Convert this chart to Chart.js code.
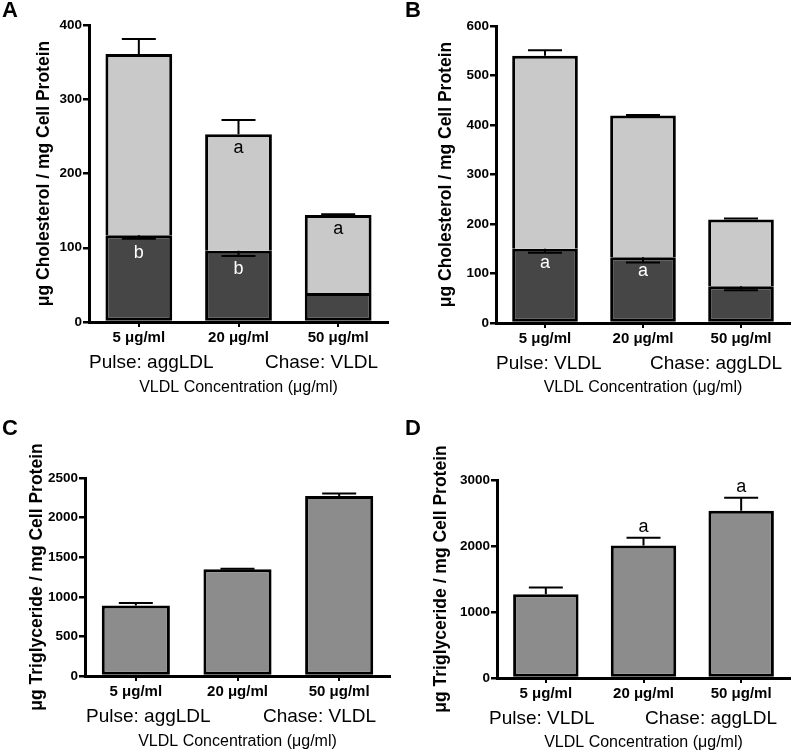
<!DOCTYPE html>
<html>
<head>
<meta charset="utf-8">
<script src="https://cdn.jsdelivr.net/npm/chart.js@4/dist/chart.umd.min.js"></script>
<style>
  body { margin: 0; background: #fff; }
  #wrap { position: relative; width: 797px; height: 756px; }
  canvas { position: absolute; }
</style>
</head>
<body>
<div id="wrap">
  <canvas id="pA" width="400" height="400" style="left:0;top:0"></canvas>
  <canvas id="pB" width="397" height="400" style="left:400px;top:0"></canvas>
  <canvas id="pC" width="400" height="356" style="left:0;top:400px"></canvas>
  <canvas id="pD" width="397" height="356" style="left:400px;top:400px"></canvas>
</div>
<script>
// categories
const categories = ['5 μg/ml', '20 μg/ml', '50 μg/ml'];

// A: pulse aggLDL, chase VLDL (cholesterol)
const aDark = [117, 96, 39];
const aDarkErr = [5, 7, 0];
const aLight = [244, 157, 105];
const aLightErr = [20, 19, 1];
const aDarkMarks = ['b', 'b', ''];
const aLightMarks = ['', 'a', 'a'];

// B: pulse VLDL, chase aggLDL (cholesterol)
const bDark = [150, 133, 74];
const bDarkErr = [8, 11, 8];
const bLight = [390, 286, 135];
const bLightErr = [11, 1, 2];
const bDarkMarks = ['a', 'a', ''];
const bLightMarks = ['', '', ''];

// C: pulse aggLDL, chase VLDL (triglyceride)
const cTG = [889, 1347, 2273];
const cErr = [33, 8, 30];

// D: pulse VLDL, chase aggLDL (triglyceride)
const dTG = [1270, 2009, 2534];
const dErr = [102, 115, 197];
const dMarks = ['', 'a', 'a'];

// y axis ranges [max, step]
const aYRange = [400, 100];
const bYRange = [600, 100];
const cYRange = [2500, 500];
const dYRange = [3000, 1000];

const FONT = "'Liberation Sans', Arial, sans-serif";
Chart.defaults.font.family = FONT;
Chart.defaults.color = '#000';

const extras = {
  id: 'extras',
  afterDatasetsDraw(chart) {
    const ctx = chart.ctx;
    const y = chart.scales.y;
    chart.data.datasets.forEach((ds, di) => {
      const meta = chart.getDatasetMeta(di);
      meta.data.forEach((bar, i) => {
        const err = ds.errors ? ds.errors[i] : 0;
        const dir = ds.errorDir || 1;
        const topVal = y.getValueForPixel(bar.y);
        let endY = bar.y;
        if (err > 0) {
          endY = y.getPixelForValue(topVal + dir * err);
          ctx.save();
          ctx.strokeStyle = '#000';
          ctx.lineWidth = 2;
          ctx.beginPath();
          ctx.moveTo(bar.x, bar.y);
          ctx.lineTo(bar.x, endY);
          ctx.moveTo(bar.x - 17, endY);
          ctx.lineTo(bar.x + 17, endY);
          ctx.stroke();
          ctx.restore();
        }
        const mark = ds.marks ? ds.marks[i] : '';
        if (mark) {
          ctx.save();
          ctx.font = '18px ' + FONT;
          ctx.fillStyle = ds.markColor || '#000';
          ctx.textAlign = 'center';
          ctx.textBaseline = 'middle';
          const ty = ds.markAbove ? endY - 11 : bar.y + ds.markOffset;
          ctx.fillText(mark, bar.x, ty);
          ctx.restore();
        }
      });
    });
  },
  afterDraw(chart, args, o) {
    const ctx = chart.ctx;
    const area = chart.chartArea;
    ctx.save();
    ctx.fillStyle = '#000';
    ctx.textBaseline = 'middle';
    ctx.font = 'bold 22px ' + FONT;
    ctx.textAlign = 'left';
    ctx.fillText(o.letter, o.letterX, o.letterY);
    ctx.font = '19px ' + FONT;
    ctx.fillText(o.pulse, o.pulseX, area.bottom + 41);
    ctx.textAlign = 'right';
    ctx.fillText(o.chase, o.chaseX, area.bottom + 41);
    ctx.restore();
  }
};

function makeChart(id, datasets, g) {
  const stacked = datasets.length > 1;
  new Chart(document.getElementById(id), {
    type: 'bar',
    data: { labels: categories, datasets: datasets },
    options: {
      responsive: false,
      animation: false,
      devicePixelRatio: 1,
      layout: { padding: { left: 0, top: g.top, right: g.right, bottom: 0 } },
      plugins: {
        legend: { display: false },
        tooltip: { enabled: false },
        extras: g.extras
      },
      scales: {
        x: {
          stacked: stacked,
          ticks: { font: { size: 15, weight: 'bold' }, color: '#000', padding: 2, maxRotation: 0 },
          grid: { drawOnChartArea: false, offset: false, tickLength: 5, color: '#000', lineWidth: 2 },
          border: { color: '#000', width: 3 },
          title: {
            display: true,
            text: 'VLDL Concentration (μg/ml)',
            font: { size: 16 },
            color: '#000',
            padding: { top: 0, bottom: g.xTitlePad }
          },
          afterFit: s => { s.height = g.xHeight; }
        },
        y: {
          stacked: stacked,
          min: 0,
          max: g.range[0],
          ticks: {
            stepSize: g.range[1],
            font: { size: 13.5, weight: 'bold' },
            color: '#000',
            padding: 1,
            callback: v => String(v)
          },
          grid: { drawOnChartArea: false, tickLength: 6, color: '#000', lineWidth: 2.5 },
          border: { color: '#000', width: 3 },
          title: {
            display: true,
            text: g.yTitle,
            font: { size: 17.5, weight: 'bold' },
            color: '#000',
            padding: { top: g.yTitlePad, bottom: 0 }
          },
          afterFit: s => { s.width = g.left; }
        }
      }
    },
    plugins: [extras]
  });
}

const barBase = { barPercentage: 0.67, categoryPercentage: 1, borderColor: '#000', borderWidth: 3 };
const cholTitle = 'μg Cholesterol / mg Cell Protein';
const tgTitle = 'μg Triglyceride / mg Cell Protein';

makeChart('pA', [
  Object.assign({}, barBase, { data: aDark, backgroundColor: '#464646', borderSkipped: false,
    errors: aDarkErr, errorDir: -1, marks: aDarkMarks, markColor: '#fff', markOffset: 18 }),
  Object.assign({}, barBase, { data: aLight, backgroundColor: '#c9c9c9', borderSkipped: 'start',
    errors: aLightErr, marks: aLightMarks, markColor: '#000', markOffset: 14 })
], { top: 25, right: 12, left: 89, xHeight: 78, xTitlePad: 3, yTitlePad: 34, range: aYRange, yTitle: cholTitle,
  extras: { letter: 'A', letterX: 2, letterY: 11, pulse: 'Pulse: aggLDL', pulseX: 89, chase: 'Chase: VLDL', chaseX: 378 } });

makeChart('pB', [
  Object.assign({}, barBase, { data: bDark, backgroundColor: '#464646', borderSkipped: false,
    errors: bDarkErr, errorDir: -1, marks: bDarkMarks, markColor: '#fff', markOffset: 14 }),
  Object.assign({}, barBase, { data: bLight, backgroundColor: '#c9c9c9', borderSkipped: 'start',
    errors: bLightErr, marks: bLightMarks, markColor: '#000', markOffset: 14 })
], { top: 26, right: 7, left: 96, xHeight: 77, xTitlePad: 3, yTitlePad: 36, range: bYRange, yTitle: cholTitle,
  extras: { letter: 'B', letterX: 5, letterY: 11, pulse: 'Pulse: VLDL', pulseX: 96, chase: 'Chase: aggLDL', chaseX: 382 } });

makeChart('pC', [
  Object.assign({}, barBase, { data: cTG, backgroundColor: '#8c8c8c', borderSkipped: false, errors: cErr })
], { top: 78, right: 10, left: 85, xHeight: 80, xTitlePad: 5, yTitlePad: 27, range: cYRange, yTitle: tgTitle,
  extras: { letter: 'C', letterX: 2, letterY: 29, pulse: 'Pulse: aggLDL', pulseX: 86, chase: 'Chase: VLDL', chaseX: 376 } });

makeChart('pD', [
  Object.assign({}, barBase, { data: dTG, backgroundColor: '#8c8c8c', borderSkipped: false, errors: dErr,
    marks: dMarks, markAbove: true, markColor: '#000' })
], { top: 80, right: 7, left: 97, xHeight: 78, xTitlePad: 4, yTitlePad: 31, range: dYRange, yTitle: tgTitle,
  extras: { letter: 'D', letterX: 5, letterY: 29, pulse: 'Pulse: VLDL', pulseX: 89, chase: 'Chase: aggLDL', chaseX: 377 } });
</script>
</body>
</html>
